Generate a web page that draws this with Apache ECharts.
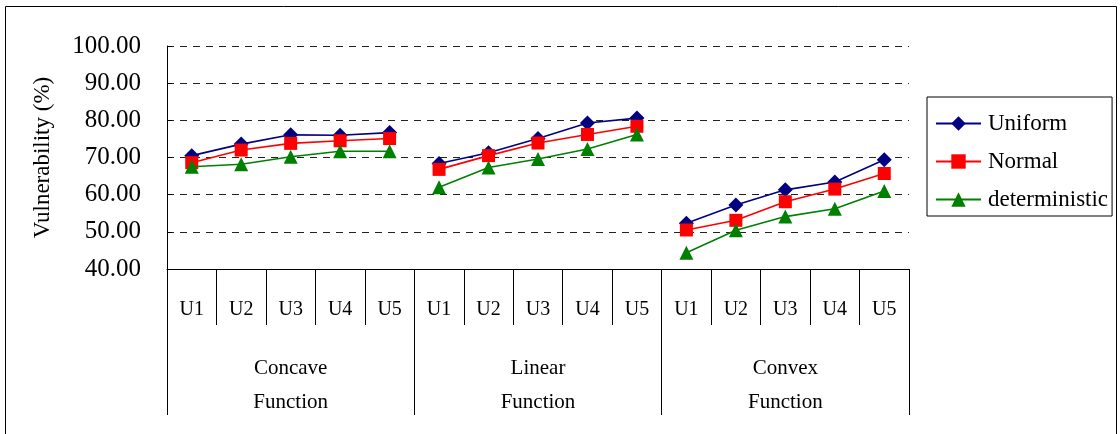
<!DOCTYPE html>
<html><head><meta charset="utf-8">
<script src="https://cdn.jsdelivr.net/npm/echarts@6/dist/echarts.min.js"></script>
<style>html,body{margin:0;padding:0;background:#fff}#c{width:1120px;height:434px}</style>
</head><body><div id="c"></div>
<script>
const categories = ['U1','U2','U3','U4','U5','U1','U2','U3','U4','U5','U1','U2','U3','U4','U5'];
const groups = ['Concave\nFunction','Linear\nFunction','Convex\nFunction'];
const seriesNames = ['Uniform','Normal','deterministic'];
const uniform = [70.5,73.6,76.1,76.0,76.7, 68.4,71.3,75.1,79.3,80.6, 52.3,57.2,61.3,63.4,69.4];
const normal = [68.6,72.0,73.8,74.5,75.1, 66.8,70.5,73.9,76.2,78.4, 50.5,53.1,58.1,61.5,65.7];
const deterministic = [67.5,68.2,70.2,71.7,71.7, 62.0,67.3,69.6,72.3,76.2, 44.4,50.4,54.1,56.2,61.0];
const yTicks = [40,50,60,70,80,90,100];

const font = 'Liberation Serif';
const styles = [
  {color:'#000080', symbol:'diamond', size:15},
  {color:'#ff0000', symbol:'rect', size:13},
  {color:'#008000', symbol:'triangle', size:14}
];
const values = [uniform, normal, deterministic];
const series = [];
values.forEach((vals, si) => {
  for (let g = 0; g < groups.length; g++) {
    const d = vals.map((v, i) => (Math.floor(i / 5) === g ? v : null));
    series.push({
      name: seriesNames[si], type: 'line', xAxisIndex: 0, yAxisIndex: 0,
      data: d, connectNulls: false,
      symbol: styles[si].symbol, symbolSize: styles[si].size,
      lineStyle: {color: styles[si].color, width: 1.6},
      itemStyle: {color: styles[si].color},
      z: 3 + si
    });
  }
});

const chart = echarts.init(document.getElementById('c'), null, {renderer:'canvas'});
chart.setOption({
  animation: false,
  backgroundColor: '#fff',
  textStyle: {fontFamily: font, color: '#000'},
  graphic: [{type:'rect', shape:{x:5.5, y:6.5, width:1111, height:440}, style:{fill:'none', stroke:'#000', lineWidth:1}, silent:true}],
  grid: {left:167, right:211, top:46, bottom:165, containLabel:false},
  legend: {
    orient:'vertical', left:927, top:97, data: seriesNames,
    borderColor:'#000', borderWidth:1, padding:[15,4,5,8],
    itemWidth:45, itemHeight:18, itemGap:15,
    textStyle:{fontFamily:font, fontSize:23, color:'#000', padding:[0,0,0,2]}
  },
  xAxis: [
    {type:'category', data: categories, position:'bottom', boundaryGap:true,
     axisLine:{show:true, lineStyle:{color:'#000', width:1}},
     axisTick:{show:true, interval:0, length:56, lineStyle:{color:'#000'}},
     axisLabel:{interval:0, margin:31, fontFamily:font, fontSize:20, color:'#000'},
     splitLine:{show:false}},
    {type:'category', data: groups, position:'bottom', gridIndex:0, boundaryGap:true,
     axisLine:{show:false},
     axisTick:{show:true, interval:0, length:146, lineStyle:{color:'#000'}},
     axisLabel:{interval:0, margin:82, fontFamily:font, fontSize:21, lineHeight:34, color:'#000'},
     splitLine:{show:false}}
  ],
  yAxis: {
    type:'value', min:yTicks[0], max:yTicks[yTicks.length-1], interval:10,
    name:'Vulnerability (%)', nameLocation:'middle', nameGap:113, nameRotate:90,
    nameTextStyle:{fontFamily:font, fontSize:23, color:'#000'},
    axisLine:{show:true, lineStyle:{color:'#000'}},
    axisTick:{show:true, inside:true, length:5, lineStyle:{color:'#000'}},
    axisLabel:{margin:26, fontFamily:font, fontSize:25, color:'#000', formatter: v => v.toFixed(2)},
    splitLine:{show:true, lineStyle:{color:'#222', type:[7,6], width:1}}
  },
  series: series
});
</script></body></html>
